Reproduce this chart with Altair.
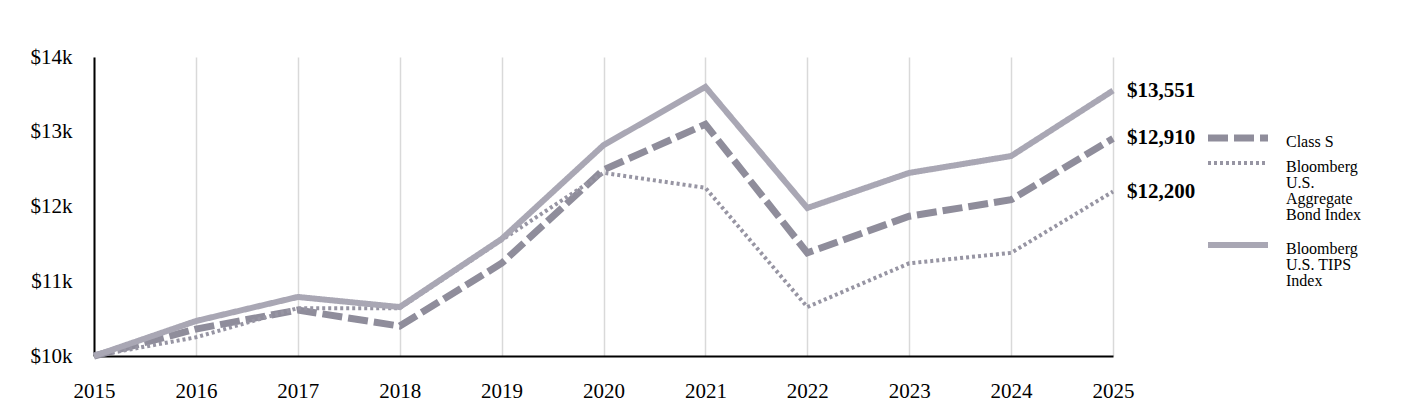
import altair as alt
import pandas as pd

YEARS = [2015, 2016, 2017, 2018, 2019, 2020, 2021, 2022, 2023, 2024, 2025]

CLASS_S = [10000, 10360, 10615, 10400, 11240, 12490, 13100, 11380, 11870, 12090, 12910]
AGG_BOND = [10000, 10250, 10640, 10640, 11550, 12450, 12250, 10655, 11240, 11380, 12200]
TIPS = [10000, 10468, 10790, 10655, 11565, 12820, 13600, 11980, 12450, 12675, 13551]

SERIES = ["Class S", "Bloomberg U.S. Aggregate Bond Index", "Bloomberg U.S. TIPS Index"]
LEGEND_TEXT = ["Class S", "Bloomberg\nU.S.\nAggregate\nBond Index", "Bloomberg\nU.S. TIPS\nIndex"]

COLORS = ["#8f8d9b", "#9795a3", "#a9a7b4"]
DASHES = [[20, 6], [3, 3], [1, 0]]
WIDTHS = [7, 4, 6]

FONT = "Liberation Serif"
DOMAIN_X = [2015, 2025]
DOMAIN_Y = [10000, 14000]

# legend placement, pixels from the plot's top-left corner
LEGEND_SYMBOL_X = 1114
LEGEND_TEXT_X = 1192
LEGEND_ROWS_Y = [81, 106, 188]


def load_long() -> pd.DataFrame:
    rows = []
    for name, vals in zip(SERIES, [CLASS_S, AGG_BOND, TIPS]):
        for y, v in zip(YEARS, vals):
            rows.append({"year": y, "value": v, "series": name})
    return pd.DataFrame(rows)


df = load_long()
last = df[df["year"] == YEARS[-1]].copy()
last["label"] = last["value"].map(lambda v: f"${v:,.0f}")
legend_df = pd.DataFrame({"series": SERIES, "legend_label": LEGEND_TEXT})

color = alt.Color("series:N", scale=alt.Scale(domain=SERIES, range=COLORS), legend=None)
dash = alt.StrokeDash("series:N", scale=alt.Scale(domain=SERIES, range=DASHES), legend=None)
width = alt.StrokeWidth(
    "series:N", scale=alt.Scale(type="ordinal", domain=SERIES, range=WIDTHS), legend=None
)

x = alt.X(
    "year:Q",
    scale=alt.Scale(domain=DOMAIN_X, nice=False),
    axis=alt.Axis(
        title=None, values=YEARS, format="d", grid=True, gridColor="#d9d9d9",
        gridWidth=1.5, ticks=False, domainColor="black", domainWidth=2,
        labelFont=FONT, labelFontSize=21, labelColor="black", labelPadding=24,
        labelFlush=False,
    ),
)
y = alt.Y(
    "value:Q",
    scale=alt.Scale(domain=DOMAIN_Y, nice=False),
    axis=alt.Axis(
        title=None, values=[10000, 11000, 12000, 13000, 14000],
        labelExpr="'$' + datum.value / 1000 + 'k'", grid=False, ticks=False,
        domainColor="black", domainWidth=2, labelFont=FONT, labelFontSize=21,
        labelColor="black", labelPadding=22,
    ),
)

lines = (
    alt.Chart(df)
    .mark_line(strokeCap="butt")
    .encode(x=x, y=y, color=color, strokeDash=dash, strokeWidth=width,
            order=alt.Order("year:Q"))
)

end_labels = (
    alt.Chart(last)
    .mark_text(align="left", baseline="middle", dx=14, font=FONT, fontSize=21,
               fontWeight="bold", color="black")
    .encode(
        x=alt.X("year:Q", scale=alt.Scale(domain=DOMAIN_X, nice=False)),
        y=alt.Y("value:Q", scale=alt.Scale(domain=DOMAIN_Y, nice=False)),
        text="label:N",
    )
)

legend_layers = []
for name, row_y in zip(SERIES, LEGEND_ROWS_Y):
    base = alt.Chart(legend_df).transform_filter(alt.datum.series == name)
    legend_layers.append(
        base.mark_rule(strokeCap="butt").encode(
            x=alt.value(LEGEND_SYMBOL_X), x2=alt.value(LEGEND_SYMBOL_X + 60),
            y=alt.value(row_y), color=color, strokeDash=dash, strokeWidth=width,
        )
    )
    legend_layers.append(
        base.mark_text(align="left", baseline="top", lineBreak="\n", lineHeight=16,
                       font=FONT, fontSize=16, color="black").encode(
            x=alt.value(LEGEND_TEXT_X), y=alt.value(row_y - 4), text="legend_label:N",
        )
    )

chart = (
    alt.layer(lines, end_labels, *legend_layers)
    .properties(
        width=1019, height=299,
        autosize=alt.AutoSizeParams(type="none"),
        padding={"left": 86, "top": 49, "right": 282, "bottom": 56},
    )
    .configure_view(stroke=None)
)

chart.save("out.html", embed_options={"renderer": "svg", "actions": False})
